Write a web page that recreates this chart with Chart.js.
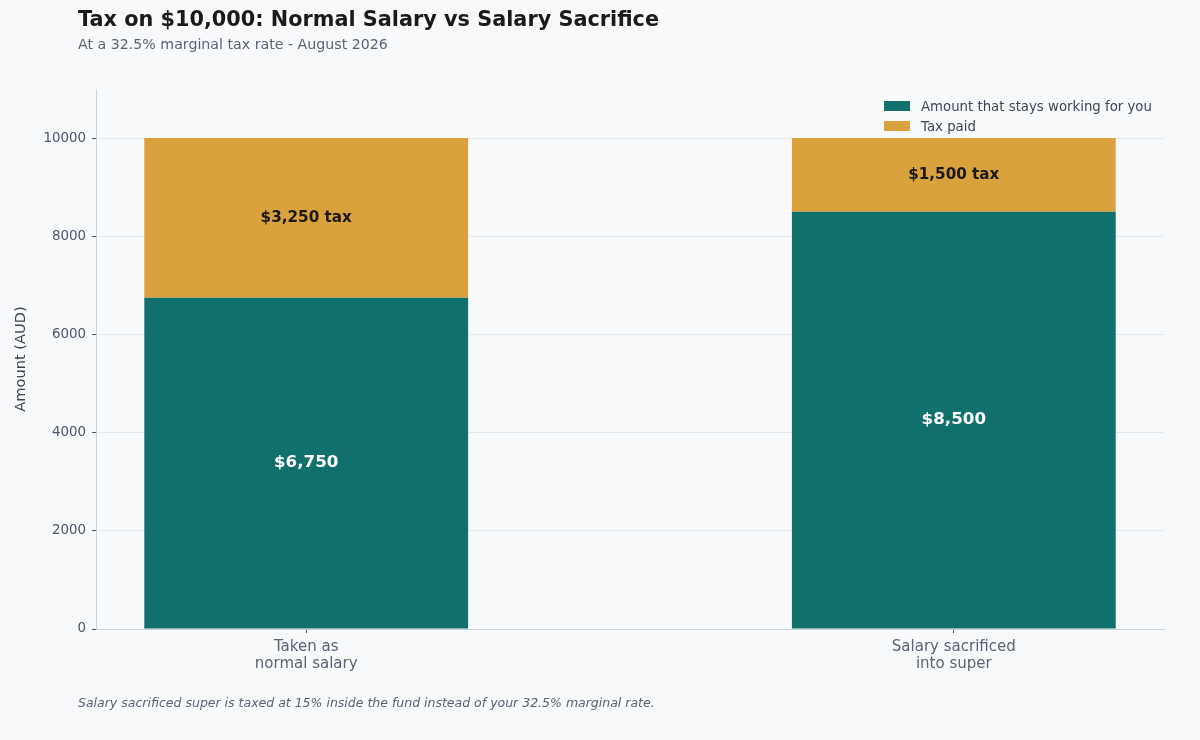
<!DOCTYPE html>
<html><head><meta charset="utf-8">
<script src="https://cdn.jsdelivr.net/npm/chart.js@4.4.1/dist/chart.umd.min.js"></script>
<style>
html,body{margin:0;padding:0;background:#f8f9fb;}
#wrap{position:relative;width:1200px;height:740px;overflow:hidden;font-family:"DejaVu Sans",sans-serif;background:#f8f9fb;}
#c{position:absolute;left:0;top:0;}
.t{position:absolute;left:78px;white-space:nowrap;line-height:1;}
</style></head><body>
<div id="wrap">
<canvas id="c" width="1200" height="740"></canvas>
<div class="t" id="title" style="top:9px;font-size:20.8px;font-weight:bold;color:#1a1a1a">Tax on $10,000: Normal Salary vs Salary Sacrifice</div>
<div class="t" id="subtitle" style="top:37px;font-size:14.2px;color:#5a6372">At a 32.5% marginal tax rate - August 2026</div>
<div class="t" id="note" style="top:697px;font-size:12.5px;font-style:italic;color:#5a6372">Salary sacrificed super is taxed at 15% inside the fund instead of your 32.5% marginal rate.</div>
</div>
<script>
// ---- data ----
const categories = [["Taken as", "normal salary"], ["Salary sacrificed", "into super"]];
const keptValues = [6750, 8500];
const taxValues = [3250, 1500];
const seriesNames = ["Amount that stays working for you", "Tax paid"];
const yTicks = [0, 2000, 4000, 6000, 8000, 10000];
const yMax = 11000;
const yTitle = "Amount (AUD)";

// ---- styles ----
const seriesColors = ['#10706b', '#d9a23c'];
const FONT = '"DejaVu Sans", sans-serif';

const fmt = v => '$' + v.toLocaleString('en-US');

const labelPlugin = {
  id: 'labels',
  afterDatasetsDraw(chart) {
    const ctx = chart.ctx;
    ctx.save();
    ctx.textAlign = 'center';
    ctx.textBaseline = 'middle';
    chart.data.datasets.forEach((ds, di) => {
      const meta = chart.getDatasetMeta(di);
      meta.data.forEach((el, i) => {
        const v = ds.data[i].y;
        const cy = (el.y + el.base) / 2;
        if (di === 0) {
          ctx.font = 'bold 16.7px ' + FONT;
          ctx.fillStyle = '#ffffff';
          ctx.fillText(fmt(v), el.x, cy);
        } else {
          ctx.font = 'bold 15.2px ' + FONT;
          ctx.fillStyle = '#1a1a1a';
          ctx.fillText(fmt(v) + ' tax', el.x, cy);
        }
      });
    });
    ctx.restore();
  },
  afterDraw(chart) {
    const ctx = chart.ctx;
    const a = chart.chartArea;
    ctx.save();
    ctx.font = '13.3px ' + FONT;
    ctx.textBaseline = 'alphabetic';
    ctx.textAlign = 'left';
    chart.data.datasets.forEach((ds, di) => {
      const bx = a.right - 280;
      const cy = a.top + 17 + di * 20;
      ctx.fillStyle = ds.backgroundColor;
      ctx.fillRect(bx, cy - 5, 26, 10);
      ctx.fillStyle = '#3d4656';
      ctx.fillText(ds.label, bx + 37, cy + 5);
    });
    ctx.restore();
  }
};

new Chart(document.getElementById('c'), {
  type: 'bar',
  data: {
    datasets: [
      { label: seriesNames[0], data: keptValues.map((v, i) => ({x: i, y: v})), backgroundColor: seriesColors[0], borderWidth: 0 },
      { label: seriesNames[1], data: taxValues.map((v, i) => ({x: i, y: v})), backgroundColor: seriesColors[1], borderWidth: 0 }
    ]
  },
  options: {
    responsive: false,
    animation: false,
    devicePixelRatio: 1,
    layout: { padding: { top: 89, right: 36, left: 0, bottom: 0 } },
    datasets: { bar: { categoryPercentage: 1, barPercentage: 0.5 } },
    plugins: { legend: { display: false }, tooltip: { enabled: false } },
    scales: {
      x: {
        type: 'linear',
        stacked: true,
        offset: false,
        min: -0.3246, max: 1.3246,
        afterBuildTicks: s => { s.ticks = categories.map((c, i) => ({value: i})); },
        afterFit: s => { s.height = 111; },
        grid: { offset: false, drawOnChartArea: false, drawTicks: true, tickLength: 4, tickColor: '#4a5568', tickWidth: 1 },
        border: { color: '#c9d1dd', width: 1 },
        ticks: {
          autoSkip: false, maxRotation: 0, minRotation: 0, padding: 5,
          color: '#5a6372', font: { family: FONT, size: 15, lineHeight: 1.15 },
          callback: v => categories[v]
        }
      },
      y: {
        stacked: true,
        min: 0, max: yMax,
        afterBuildTicks: s => { s.ticks = yTicks.map(v => ({value: v})); },
        afterFit: s => { s.width = 96; },
        grid: { color: '#e3e8ef', lineWidth: 1, drawTicks: true, tickLength: 4, tickColor: '#4a5568', tickWidth: 1 },
        border: { color: '#c9d1dd', width: 1 },
        ticks: { color: '#4a5568', padding: 6, font: { family: FONT, size: 13.4 }, callback: v => String(v) },
        title: { display: true, text: yTitle, color: '#3d4656', font: { family: FONT, size: 14.6 }, padding: { top: 12, bottom: 0 } }
      }
    }
  },
  plugins: [labelPlugin]
});
</script>
</body></html>
